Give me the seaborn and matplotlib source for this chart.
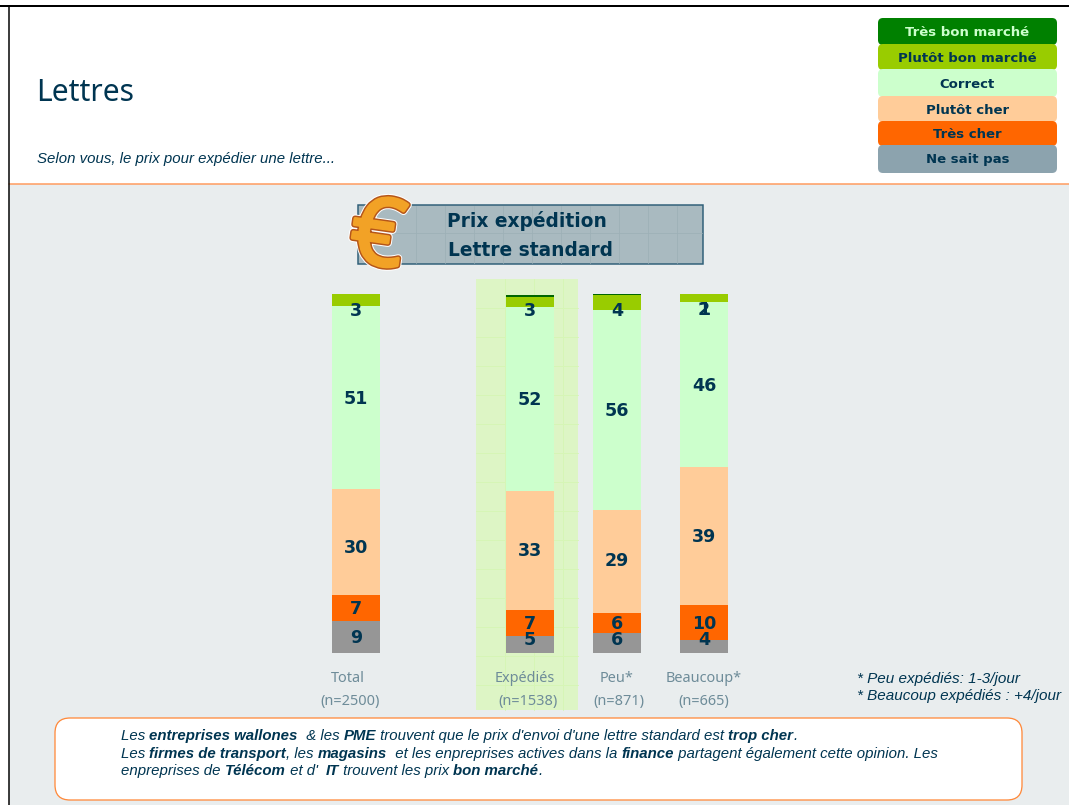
import matplotlib
matplotlib.use('Agg')
import seaborn as sns
from matplotlib import pyplot as plt
from matplotlib.patches import Rectangle, FancyBboxPatch
import matplotlib.patheffects as pe

# values
groups = ['Total', ' ', 'Expédiés', 'Peu*', 'Beaucoup*']
ns = ['(n=2500)', '', '(n=1538)', '(n=871)', '(n=665)']
ne_sait_pas = [8.9, 0, 4.7, 5.6, 3.6]
tres_cher = [7.2, 0, 7.2, 5.6, 9.7]
plutot_cher = [29.5, 0, 33.1, 28.7, 38.4]
correct = [51.0, 0, 51.3, 55.7, 46.2]
plutot_bon = [3.3, 0, 3.0, 4.2, 2.0]
tres_bon = [0, 0, 0.3, 0.3, 0]

lab_nsp = ['9', '', '5', '6', '4']
lab_tc = ['7', '', '7', '6', '10']
lab_pc = ['30', '', '33', '29', '39']
lab_cor = ['51', '', '52', '56', '46']
lab_pb = ['3', '', '3', '4', '2']
lab_tb = ['', '', '', '', '1']

legend_names = ['Très bon marché', 'Plutôt bon marché', 'Correct', 'Plutôt cher', 'Très cher', 'Ne sait pas']

navy = '#003551'
W, H = 1069, 805
SANS = 'Liberation Sans'
BOLD = 'DejaVu Sans'

sns.set_style('white')
plt.rcParams['font.family'] = ['Noto Sans', 'DejaVu Sans']

fig = plt.figure(figsize=(W / 72, H / 72), dpi=72)
bg = fig.add_axes([0, 0, 1, 1], zorder=0)
bg.set_xlim(0, W)
bg.set_ylim(H, 0)
bg.axis('off')

# page background
bg.add_patch(Rectangle((9, 184), W, H, color='#E9EDEE', lw=0))
bg.plot([9, W], [184, 184], color='#FF9A5C', lw=1.5)
bg.plot([0, W], [6, 6], color='black', lw=2)
bg.plot([8.5, 8.5], [6, H], color='black', lw=1.5)

bg.text(36, 93, 'Lettres', fontsize=30, color=navy, va='center')
bg.text(37, 159, 'Selon vous, le prix pour expédier une lettre...', fontsize=15, color=navy,
        style='italic', va='center', family=SANS)

# legend boxes at top right
leg_cols = ['#008000', '#99CC00', '#CCFFCC', '#FFCC99', '#FF6600', '#8CA3AE']
leg_tops = [18, 44, 69, 96, 121, 145]
leg_bots = [45, 70, 97, 122, 146, 173]
for name, c, t, b in zip(legend_names, leg_cols, leg_tops, leg_bots):
    bg.add_patch(FancyBboxPatch((881, t + 3), 173, b - t - 6, boxstyle='round,pad=3,rounding_size=5',
                                fc=c, ec=c, lw=0))
    tc = '#CCFFCC' if name == 'Très bon marché' else navy
    bg.text(967.5, (t + b) / 2 + 1, name, fontsize=13.2, fontweight='bold', color=tc, ha='center', va='center', family=BOLD)

# highlight column behind Expédiés
bg.add_patch(Rectangle((476, 279), 102, 431, color='#DDF5C5', lw=0))
for x in range(505, 578, 29):
    bg.plot([x, x], [279, 710], color='#D6F5B6', lw=1)
for y in range(308, 710, 29):
    bg.plot([476, 578], [y, y], color='#D6F5B6', lw=1)

# title panel
bg.add_patch(Rectangle((358, 205), 345, 59, fc='#A9BAC0', ec='#2F5F78', lw=1.5))
for x in range(416, 703, 29):
    bg.plot([x, x], [206, 263], color='#9DB0B7', lw=0.8)
bg.plot([359, 702], [233, 233], color='#9DB0B7', lw=0.8)
bg.text(527, 221, 'Prix expédition', fontsize=18.6, fontweight='bold', color=navy, ha='center', va='center', family=BOLD)
bg.text(530, 250, 'Lettre standard', fontsize=18.6, fontweight='bold', color=navy, ha='center', va='center', family=BOLD)
bg.text(377, 240, '€', fontsize=94, fontweight='bold', color='#F2A226', ha='center', va='center', rotation=-8,
        path_effects=[pe.withStroke(linewidth=8, foreground='white'), pe.withStroke(linewidth=6, foreground='#B5561A'),
                      pe.withStroke(linewidth=3, foreground='#F2A226')])

# stacked bars
ax = fig.add_axes([(356 - 43.5) / W, (H - 653) / H, 435 / W, 359 / H], zorder=1)
ax.patch.set_alpha(0)
series = [(ne_sait_pas, '#969696', lab_nsp, [0, 0, -5.5, -4, -7.5]),
          (tres_cher, '#FF6600', lab_tc, [0, 0, 0, 0, 0]),
          (plutot_cher, '#FFCC99', lab_pc, [5, 0, -1, -1, 0]),
          (correct, '#CCFFCC', lab_cor, [0, 0, 0, 0, 1]),
          (plutot_bon, '#99CC00', lab_pb, [10, 0, 8.5, 7.5, 11.5]),
          (tres_bon, '#006600', lab_tb, [0, 0, 0, 0, 15])]
bottom = [0] * len(groups)
for vals, col, labs, nudge in series:
    sns.barplot(x=groups, y=vals, order=groups, bottom=bottom, color=col, saturation=1,
                width=0.556, errorbar=None, linewidth=0, edgecolor='none', ax=ax)
    for i, lab in enumerate(labs):
        if lab:
            ax.annotate(lab, (i, bottom[i] + vals[i] / 2), xytext=(0, -nudge[i] - 1), textcoords='offset points',
                        ha='center', va='center', fontsize=17.5, fontweight='bold', color=navy, family=BOLD)
    bottom = [b + v for b, v in zip(bottom, vals)]
ax.set_xlim(-0.5, 4.5)
ax.set_ylim(0, 100)
ax.set_ylabel('')
ax.set_yticks([])
ax.set_xticks([])
sns.despine(ax=ax, left=True, bottom=True)

# group names under the bars
tick_col = '#6E8C99'
name_dx = [-8, 0, -5, 0, 0]
n_dx = [-6, 0, -2, 2, 0]
for i, (g, n) in enumerate(zip(groups, ns)):
    ax.annotate(g, (i, 0), xytext=(name_dx[i], -26), textcoords='offset points', ha='center', va='center',
                fontsize=14.5, color=tick_col)
    ax.annotate(n, (i, 0), xytext=(n_dx[i], -48), textcoords='offset points', ha='center', va='center',
                fontsize=14.5, color=tick_col)

bg.text(857, 679, '* Peu expédiés: 1-3/jour', fontsize=15.2, style='italic', color=navy, va='center', family=SANS)
bg.text(857, 696, '* Beaucoup expédiés : +4/jour', fontsize=15.2, style='italic', color=navy, va='center', family=SANS)

# comment box
bg.add_patch(FancyBboxPatch((70, 733), 937, 52, boxstyle='round,pad=15,rounding_size=15',
                            fc='white', ec='#FF8A3C', lw=1.3))


def runs(x, y, parts):
    # mixed italic / bold italic on one line
    r = fig.canvas.get_renderer()
    for txt, bold in parts:
        t = bg.text(x, y, txt, fontsize=15, style='italic', fontweight='bold' if bold else 'normal',
                    color=navy, va='center', family=SANS)
        x += t.get_window_extent(r).width


runs(121, 736, [('Les ', 0), ('entreprises wallones', 1), ('  & les ', 0), ('PME', 1),
                (" trouvent que le prix d'envoi d'une lettre standard est ", 0), ('trop cher', 1), ('.', 0)])
runs(121, 754, [('Les ', 0), ('firmes de transport', 1), (', les ', 0), ('magasins', 1),
                ('  et les enpreprises actives dans la ', 0), ('finance', 1),
                (' partagent également cette opinion. Les', 0)])
runs(121, 771, [('enpreprises de ', 0), ('Télécom', 1), (" et d'  ", 0), ('IT', 1),
                (' trouvent les prix ', 0), ('bon marché', 1), ('.', 0)])

plt.savefig('out.png', dpi=72)
